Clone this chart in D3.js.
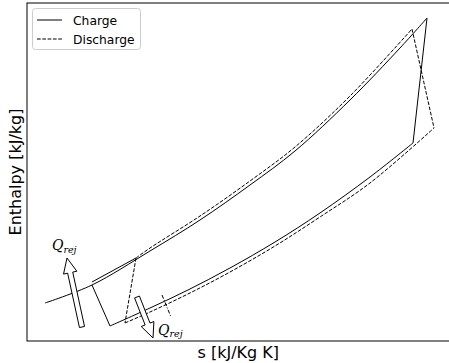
<!DOCTYPE html>
<html><head><meta charset="utf-8">
<script src="https://cdn.jsdelivr.net/npm/d3@7"></script>
<style>body{margin:0;background:#fff}</style>
</head><body>
<script>
// values in % of the axes range (no ticks shown on the chart)
// charge (solid): high pressure line, from the top corner down to the far left
const chargeHighS = [94.79, 88.39, 76.54, 63.51, 52.84, 41.00, 29.15, 15.40, 4.27];
const chargeHighH = [95.56, 86.69, 71.30, 56.21, 46.15, 35.80, 26.63, 16.57, 11.24];
// charge low pressure line, left to right
const chargeLowS = [19.67, 29.15, 38.15, 48.10, 58.77, 69.43, 81.28, 91.47];
const chargeLowH = [4.44, 9.76, 15.09, 21.60, 29.29, 37.87, 48.52, 58.58];
// short solid piece along the high pressure line
const rejS = [15.40, 25.83];
const rejH = [17.46, 24.56];
// discharge (dashed)
const dischHighS = [25.83, 29.15, 41.00, 52.84, 63.51, 76.54, 91.23];
const dischHighH = [24.56, 27.51, 36.98, 47.34, 57.40, 72.49, 92.31];
const dischLowS = [23.22, 29.15, 38.15, 48.10, 58.77, 69.43, 81.28, 96.45];
const dischLowH = [5.33, 8.58, 13.91, 20.41, 28.11, 36.69, 46.75, 63.02];
// dash-dot marker across the low pressure line
const markS = [31.99, 34.12];
const markH = [13.61, 7.10];
// heat rejection arrows: tail -> tip, and label anchors
const arrowS = [[13.03, 9.48], [26.07, 29.86]];
const arrowH = [[4.14, 24.56], [13.02, 0.89]];
const labelS = [5.92, 31.04];
const labelH = [26.92, 1.78];
const seriesNames = ["Charge", "Discharge"];

const W = 449, H = 363;
const m = {left: 27, top: 3, right: 449.5, bottom: 341};

const x = d3.scaleLinear().domain([0, 100]).range([m.left, m.left + 4.22 * 100]);
const y = d3.scaleLinear().domain([0, 100]).range([m.bottom, m.bottom - 3.38 * 100]);

const svg = d3.select('body').append('svg')
    .attr('width', W).attr('height', H)
    .style('font-family', 'DejaVu Sans');

const zip = (a, b) => a.map((v, i) => [v, b[i]]);
const curve = d3.line().x(d => x(d[0])).y(d => y(d[1])).curve(d3.curveCatmullRom.alpha(0.5));
const straight = d3.line().x(d => x(d[0])).y(d => y(d[1]));

const plot = svg.append('g');

function draw(gen, pts, dash) {
    plot.append('path')
        .attr('d', gen(pts))
        .attr('fill', 'none')
        .attr('stroke', '#000')
        .attr('stroke-width', 1)
        .attr('stroke-dasharray', dash || null);
}

/* ------- CHARGE -------*/
const cHigh = zip(chargeHighS, chargeHighH);
const cLow = zip(chargeLowS, chargeLowH);
draw(curve, cHigh);
draw(curve, cLow);
draw(straight, [cHigh[7], cLow[0]]);                    // expansion
draw(straight, [cLow[cLow.length - 1], cHigh[0]]);     // compression
draw(straight, zip(rejS, rejH));

/* ------- DISCHARGE -------*/
const dash = '3.7,1.6';
const dHigh = zip(dischHighS, dischHighH);
const dLow = zip(dischLowS, dischLowH);
draw(curve, dHigh, dash);
draw(curve, dLow, dash);
draw(straight, [dHigh[0], dLow[0]], dash);
draw(straight, [dHigh[dHigh.length - 1], dLow[dLow.length - 1]], dash);

draw(straight, zip(markS, markH), '4,1.5,1,1.5');

/* ------- ARROWS -------*/
function arrowPoly(x0, y0, x1, y1) {
    const dx = x1 - x0, dy = y1 - y0, L = Math.hypot(dx, dy);
    const ux = dx / L, uy = dy / L, nx = -uy, ny = ux;
    const w = 2.6, hw = 6.8, hl = 15;
    const bx = x1 - ux * hl, by = y1 - uy * hl;
    return [
        [x0 + nx * w, y0 + ny * w], [bx + nx * w, by + ny * w], [bx + nx * hw, by + ny * hw],
        [x1, y1],
        [bx - nx * hw, by - ny * hw], [bx - nx * w, by - ny * w], [x0 - nx * w, y0 - ny * w]
    ];
}
arrowS.forEach((s, i) => {
    const p = arrowPoly(x(s[0]), y(arrowH[i][0]), x(s[1]), y(arrowH[i][1]));
    plot.append('polygon')
        .attr('points', p.map(d => d.join(',')).join(' '))
        .attr('fill', '#fff').attr('stroke', '#000').attr('stroke-width', 1);
});

labelS.forEach((s, i) => {
    const t = plot.append('text')
        .attr('x', x(s)).attr('y', y(labelH[i]))
        .style('font-family', 'DejaVu Serif').style('font-style', 'italic');
    t.append('tspan').style('font-size', '14px').text('Q');
    t.append('tspan').style('font-size', '9.5px').attr('dy', 2.5).text('rej');
});

/* ------- AXES FRAME -------*/
svg.append('rect')
    .attr('x', m.left).attr('y', m.top)
    .attr('width', m.right - m.left).attr('height', m.bottom - m.top)
    .attr('fill', 'none').attr('stroke', '#000').attr('stroke-width', 1);

svg.append('text')
    .attr('x', (m.left + m.right) / 2).attr('y', 358)
    .attr('text-anchor', 'middle').style('font-size', '16px').attr('fill', '#000')
    .text('s [kJ/Kg K]');
svg.append('text')
    .attr('transform', `translate(21, ${(m.top + m.bottom) / 2}) rotate(-90)`)
    .attr('text-anchor', 'middle').style('font-size', '16px').attr('fill', '#000')
    .text('Enthalpy [kJ/kg]');

/* ------- LEGEND -------*/
const lg = svg.append('g');
lg.append('rect')
    .attr('x', 32.5).attr('y', 8.5).attr('width', 108).attr('height', 41).attr('rx', 3)
    .attr('fill', '#fff').attr('fill-opacity', 0.8).attr('stroke', '#ccc');
seriesNames.forEach((n, i) => {
    const yy = 20 + i * 19;
    lg.append('line').attr('x1', 37).attr('x2', 62).attr('y1', yy).attr('y2', yy)
        .attr('stroke', '#000').attr('stroke-width', 1)
        .attr('stroke-dasharray', i ? dash : null);
    lg.append('text').attr('x', 73).attr('y', yy + 4.5)
        .style('font-size', '12.3px').attr('fill', '#000').text(n);
});
</script>
</body></html>
